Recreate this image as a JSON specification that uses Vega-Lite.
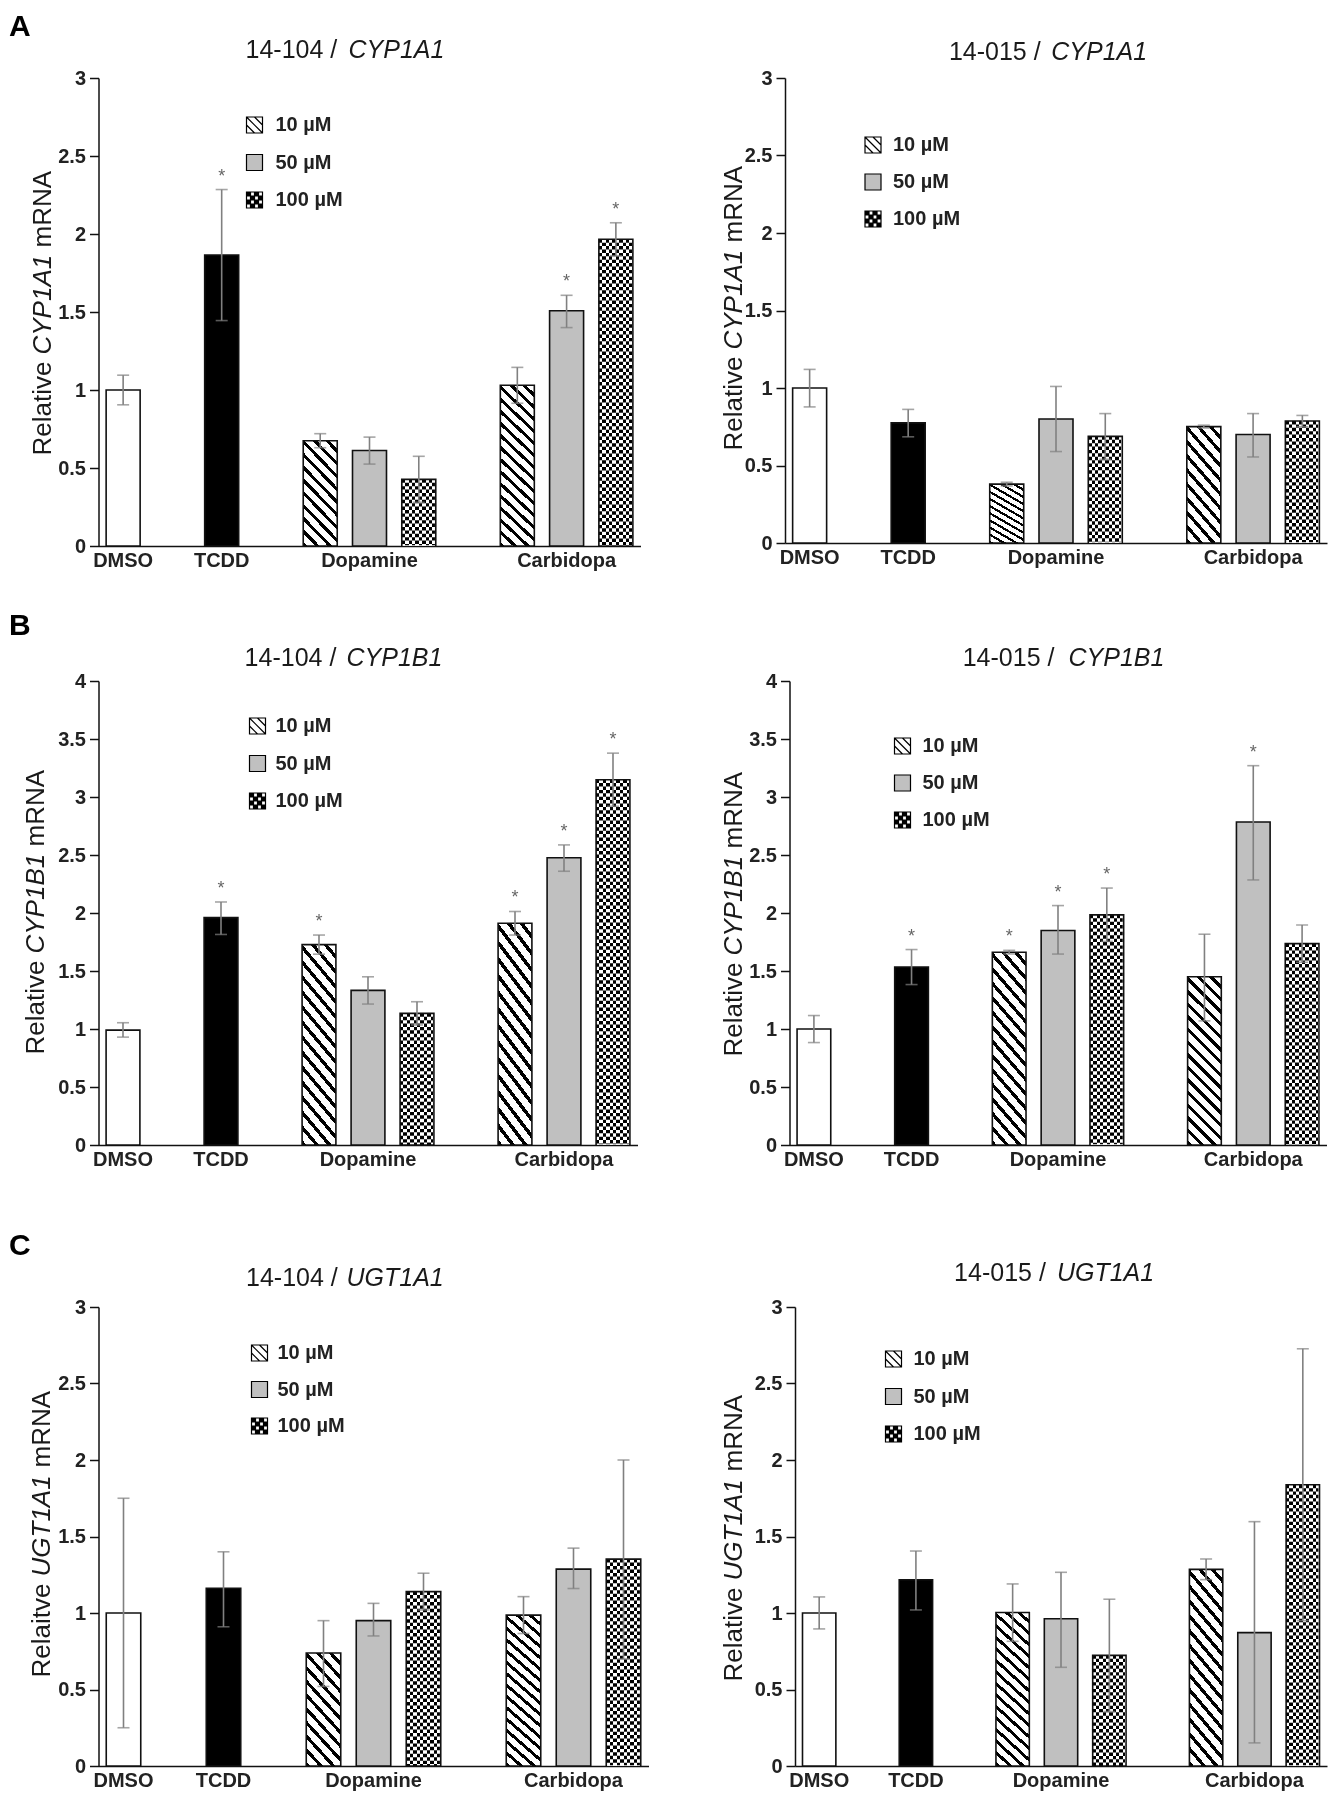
{
"$schema": "https://vega.github.io/schema/vega-lite/v6.json",
"background": "white",
"padding": {"left": 8.5, "top": 3, "right": 2, "bottom": 2},
"params": [
 {"name": "hatch", "value": {"gradient":"linear","x1":0,"y1":1,"x2":0.2308,"y2":-0.1538,"stops":[
{"offset":0,"color":"#000"},{"offset":0.0219,"color":"#000"},{"offset":0.0219,"color":"#fff"},{"offset":0.0625,"color":"#fff"},
{"offset":0.0625,"color":"#000"},{"offset":0.0844,"color":"#000"},{"offset":0.0844,"color":"#fff"},{"offset":0.125,"color":"#fff"},
{"offset":0.125,"color":"#000"},{"offset":0.1469,"color":"#000"},{"offset":0.1469,"color":"#fff"},{"offset":0.1875,"color":"#fff"},
{"offset":0.1875,"color":"#000"},{"offset":0.2094,"color":"#000"},{"offset":0.2094,"color":"#fff"},{"offset":0.25,"color":"#fff"},
{"offset":0.25,"color":"#000"},{"offset":0.2719,"color":"#000"},{"offset":0.2719,"color":"#fff"},{"offset":0.3125,"color":"#fff"},
{"offset":0.3125,"color":"#000"},{"offset":0.3344,"color":"#000"},{"offset":0.3344,"color":"#fff"},{"offset":0.375,"color":"#fff"},
{"offset":0.375,"color":"#000"},{"offset":0.3969,"color":"#000"},{"offset":0.3969,"color":"#fff"},{"offset":0.4375,"color":"#fff"},
{"offset":0.4375,"color":"#000"},{"offset":0.4594,"color":"#000"},{"offset":0.4594,"color":"#fff"},{"offset":0.5,"color":"#fff"},
{"offset":0.5,"color":"#000"},{"offset":0.5219,"color":"#000"},{"offset":0.5219,"color":"#fff"},{"offset":0.5625,"color":"#fff"},
{"offset":0.5625,"color":"#000"},{"offset":0.5844,"color":"#000"},{"offset":0.5844,"color":"#fff"},{"offset":0.625,"color":"#fff"},
{"offset":0.625,"color":"#000"},{"offset":0.6469,"color":"#000"},{"offset":0.6469,"color":"#fff"},{"offset":0.6875,"color":"#fff"},
{"offset":0.6875,"color":"#000"},{"offset":0.7094,"color":"#000"},{"offset":0.7094,"color":"#fff"},{"offset":0.75,"color":"#fff"},
{"offset":0.75,"color":"#000"},{"offset":0.7719,"color":"#000"},{"offset":0.7719,"color":"#fff"},{"offset":0.8125,"color":"#fff"},
{"offset":0.8125,"color":"#000"},{"offset":0.8344,"color":"#000"},{"offset":0.8344,"color":"#fff"},{"offset":0.875,"color":"#fff"},
{"offset":0.875,"color":"#000"},{"offset":0.8969,"color":"#000"},{"offset":0.8969,"color":"#fff"},{"offset":0.9375,"color":"#fff"},
{"offset":0.9375,"color":"#000"},{"offset":0.9594,"color":"#000"},{"offset":0.9594,"color":"#fff"},{"offset":1,"color":"#fff"}]}},
 {"name": "hatchShort", "value": {"gradient":"linear","x1":0,"y1":1,"x2":0.4,"y2":-0.2,"stops":[
{"offset":0,"color":"#000"},{"offset":0.0318,"color":"#000"},{"offset":0.0318,"color":"#fff"},{"offset":0.0909,"color":"#fff"},
{"offset":0.0909,"color":"#000"},{"offset":0.1227,"color":"#000"},{"offset":0.1227,"color":"#fff"},{"offset":0.1818,"color":"#fff"},
{"offset":0.1818,"color":"#000"},{"offset":0.2136,"color":"#000"},{"offset":0.2136,"color":"#fff"},{"offset":0.2727,"color":"#fff"},
{"offset":0.2727,"color":"#000"},{"offset":0.3045,"color":"#000"},{"offset":0.3045,"color":"#fff"},{"offset":0.3636,"color":"#fff"},
{"offset":0.3636,"color":"#000"},{"offset":0.3954,"color":"#000"},{"offset":0.3954,"color":"#fff"},{"offset":0.4545,"color":"#fff"},
{"offset":0.4545,"color":"#000"},{"offset":0.4863,"color":"#000"},{"offset":0.4863,"color":"#fff"},{"offset":0.5455,"color":"#fff"},
{"offset":0.5455,"color":"#000"},{"offset":0.5773,"color":"#000"},{"offset":0.5773,"color":"#fff"},{"offset":0.6364,"color":"#fff"},
{"offset":0.6364,"color":"#000"},{"offset":0.6682,"color":"#000"},{"offset":0.6682,"color":"#fff"},{"offset":0.7273,"color":"#fff"},
{"offset":0.7273,"color":"#000"},{"offset":0.7591,"color":"#000"},{"offset":0.7591,"color":"#fff"},{"offset":0.8182,"color":"#fff"},
{"offset":0.8182,"color":"#000"},{"offset":0.85,"color":"#000"},{"offset":0.85,"color":"#fff"},{"offset":0.9091,"color":"#fff"},
{"offset":0.9091,"color":"#000"},{"offset":0.9409,"color":"#000"},{"offset":0.9409,"color":"#fff"},{"offset":1,"color":"#fff"}]}},
 {"name": "checker", "value": {"gradient":"linear","x1":0,"y1":0,"x2":1,"y2":0,"stops":[
{"offset":0,"color":"#000"},{"offset":0.1,"color":"#000"},{"offset":0.1,"color":"#fff"},{"offset":0.2,"color":"#fff"},
{"offset":0.2,"color":"#000"},{"offset":0.3,"color":"#000"},{"offset":0.3,"color":"#fff"},{"offset":0.4,"color":"#fff"},
{"offset":0.4,"color":"#000"},{"offset":0.5,"color":"#000"},{"offset":0.5,"color":"#fff"},{"offset":0.6,"color":"#fff"},
{"offset":0.6,"color":"#000"},{"offset":0.7,"color":"#000"},{"offset":0.7,"color":"#fff"},{"offset":0.8,"color":"#fff"},
{"offset":0.8,"color":"#000"},{"offset":0.9,"color":"#000"},{"offset":0.9,"color":"#fff"},{"offset":1,"color":"#fff"}]}}
],
"datasets": {
 "AL": [
  {"slot":"DMSO","dose":"","value":1.0,"lo":0.905,"hi":1.095,"sig":""},
  {"slot":"TCDD","dose":"","value":1.865,"lo":1.445,"hi":2.285,"sig":"*"},
  {"slot":"D10","dose":"10 µM","value":0.675,"lo":0.63,"hi":0.72,"sig":""},
  {"slot":"D50","dose":"50 µM","value":0.612,"lo":0.525,"hi":0.698,"sig":""},
  {"slot":"D100","dose":"100 µM","value":0.427,"lo":0.28,"hi":0.575,"sig":""},
  {"slot":"C10","dose":"10 µM","value":1.03,"lo":0.915,"hi":1.145,"sig":""},
  {"slot":"C50","dose":"50 µM","value":1.508,"lo":1.4,"hi":1.607,"sig":"*"},
  {"slot":"C100","dose":"100 µM","value":1.966,"lo":1.86,"hi":2.072,"sig":"*"}],
 "AR": [
  {"slot":"DMSO","dose":"","value":1.0,"lo":0.878,"hi":1.12,"sig":""},
  {"slot":"TCDD","dose":"","value":0.775,"lo":0.685,"hi":0.862,"sig":""},
  {"slot":"D10","dose":"10 µM","value":0.38,"lo":0.368,"hi":0.392,"sig":""},
  {"slot":"D50","dose":"50 µM","value":0.8,"lo":0.59,"hi":1.01,"sig":""},
  {"slot":"D100","dose":"100 µM","value":0.688,"lo":0.54,"hi":0.835,"sig":""},
  {"slot":"C10","dose":"10 µM","value":0.751,"lo":0.742,"hi":0.76,"sig":""},
  {"slot":"C50","dose":"50 µM","value":0.7,"lo":0.555,"hi":0.835,"sig":""},
  {"slot":"C100","dose":"100 µM","value":0.787,"lo":0.75,"hi":0.823,"sig":""}],
 "BL": [
  {"slot":"DMSO","dose":"","value":0.99,"lo":0.93,"hi":1.054,"sig":""},
  {"slot":"TCDD","dose":"","value":1.96,"lo":1.815,"hi":2.095,"sig":"*"},
  {"slot":"D10","dose":"10 µM","value":1.727,"lo":1.645,"hi":1.81,"sig":"*"},
  {"slot":"D50","dose":"50 µM","value":1.333,"lo":1.215,"hi":1.45,"sig":""},
  {"slot":"D100","dose":"100 µM","value":1.135,"lo":1.035,"hi":1.235,"sig":""},
  {"slot":"C10","dose":"10 µM","value":1.911,"lo":1.81,"hi":2.013,"sig":"*"},
  {"slot":"C50","dose":"50 µM","value":2.476,"lo":2.36,"hi":2.587,"sig":"*"},
  {"slot":"C100","dose":"100 µM","value":3.149,"lo":2.92,"hi":3.378,"sig":"*"}],
 "BR": [
  {"slot":"DMSO","dose":"","value":1.0,"lo":0.883,"hi":1.116,"sig":""},
  {"slot":"TCDD","dose":"","value":1.534,"lo":1.383,"hi":1.685,"sig":"*"},
  {"slot":"D10","dose":"10 µM","value":1.662,"lo":1.647,"hi":1.678,"sig":"*"},
  {"slot":"D50","dose":"50 µM","value":1.849,"lo":1.646,"hi":2.064,"sig":"*"},
  {"slot":"D100","dose":"100 µM","value":1.984,"lo":1.755,"hi":2.215,"sig":"*"},
  {"slot":"C10","dose":"10 µM","value":1.45,"lo":1.07,"hi":1.817,"sig":""},
  {"slot":"C50","dose":"50 µM","value":2.785,"lo":2.285,"hi":3.27,"sig":"*"},
  {"slot":"C100","dose":"100 µM","value":1.736,"lo":1.575,"hi":1.897,"sig":""}],
 "CL": [
  {"slot":"DMSO","dose":"","value":1.0,"lo":0.25,"hi":1.75,"sig":""},
  {"slot":"TCDD","dose":"","value":1.162,"lo":0.91,"hi":1.4,"sig":""},
  {"slot":"D10","dose":"10 µM","value":0.739,"lo":0.52,"hi":0.95,"sig":""},
  {"slot":"D50","dose":"50 µM","value":0.95,"lo":0.85,"hi":1.063,"sig":""},
  {"slot":"D100","dose":"100 µM","value":1.14,"lo":1.02,"hi":1.26,"sig":""},
  {"slot":"C10","dose":"10 µM","value":0.986,"lo":0.866,"hi":1.107,"sig":""},
  {"slot":"C50","dose":"50 µM","value":1.287,"lo":1.16,"hi":1.424,"sig":""},
  {"slot":"C100","dose":"100 µM","value":1.352,"lo":0.7,"hi":2.0,"sig":""}],
 "CR": [
  {"slot":"DMSO","dose":"","value":1.0,"lo":0.896,"hi":1.105,"sig":""},
  {"slot":"TCDD","dose":"","value":1.217,"lo":1.02,"hi":1.405,"sig":""},
  {"slot":"D10","dose":"10 µM","value":1.003,"lo":0.815,"hi":1.19,"sig":""},
  {"slot":"D50","dose":"50 µM","value":0.962,"lo":0.645,"hi":1.266,"sig":""},
  {"slot":"D100","dose":"100 µM","value":0.723,"lo":0.356,"hi":1.09,"sig":""},
  {"slot":"C10","dose":"10 µM","value":1.285,"lo":1.218,"hi":1.353,"sig":""},
  {"slot":"C50","dose":"50 µM","value":0.872,"lo":0.151,"hi":1.597,"sig":""},
  {"slot":"C100","dose":"100 µM","value":1.838,"lo":0.95,"hi":2.727,"sig":""}]
},
"spacing": 31,
"resolve": {"scale": {"x":"independent","y":"independent","fill":"independent","shape":"independent"}, "axis": {"x":"independent","y":"independent"}, "legend": {"fill":"independent","shape":"independent"}},
"vconcat": [
{"hconcat": [
 {"width": 542, "height": 468, "data": {"name": "AL"},
  "encoding": {"x": {"field": "slot", "type": "nominal", "scale": {"domain": ["DMSO","g1","TCDD","g2","D10","D50","D100","g3","C10","C50","C100"], "paddingInner": 0.31, "paddingOuter": 0.155}, "axis": {"orient":"bottom","title":null,"ticks":false,"labelAngle":0,"labelFontSize":20,"labelFontWeight":"bold","labelPadding":4,"labelOverlap":false,"labelExpr":"datum.value=='D50'?'Dopamine':datum.value=='C50'?'Carbidopa':(datum.value=='DMSO'||datum.value=='TCDD')?datum.value:''"}}},
  "layer": [
   {"transform": [{"filter": "datum.dose=='' || datum.dose=='50 µM'"}], "mark": {"type":"bar","stroke":"#111111","strokeWidth":1.6},
    "encoding": {"y": {"field":"value","type":"quantitative","scale":{"domain":[0,3],"nice":false},"axis":{"orient":"left","values":[0,0.5,1,1.5,2,2.5,3],"format":"~g","tickSize":9,"labelFontSize":20,"labelFontWeight":"bold","labelPadding":4,"title":"Relative","titleFontSize":26,"titleFontWeight":"normal","titleAngle":-90,"titleAlign":"left","titleBaseline":"middle","titleX":-56.5,"titleY":377}},
     "fill": {"condition": [{"test":"datum.slot=='DMSO'","value":"white"},{"test":"datum.slot=='TCDD'","value":"black"}], "value":"#c0c0c0"}}},
   {"transform": [{"filter": "datum.dose=='10 µM'"}], "mark": {"type":"bar","fill":{"expr":"datum.value < 0.9 ? hatchShort : hatch"},"stroke":"#111111","strokeWidth":1.6},
    "encoding": {"y": {"field":"value","type":"quantitative","scale":{"domain":[0,3],"nice":false},"axis":{"orient":"left","domain":false,"ticks":false,"labels":false,"grid":false,"title":"CYP1A1","titleFontSize":26,"titleFontWeight":"normal","titleFontStyle":"italic","titleAngle":-90,"titleAlign":"left","titleBaseline":"middle","titleX":-56.5,"titleY":276}}}},
   {"transform": [{"filter": "datum.dose=='100 µM'"}], "mark": {"type":"bar","fill":{"expr":"checker"},"stroke":"#111111","strokeWidth":1.6},
    "encoding": {"y": {"field":"value","type":"quantitative","scale":{"domain":[0,3],"nice":false},"axis":{"orient":"left","domain":false,"ticks":false,"labels":false,"grid":false,"title":"mRNA","titleFontSize":26,"titleFontWeight":"normal","titleAngle":-90,"titleAlign":"left","titleBaseline":"middle","titleX":-56.5,"titleY":169}}}},
   {"transform": [{"filter": "datum.dose=='100 µM'"}], "mark": {"type":"rule","color":"white","strokeWidth":32.4,"strokeDash":[3.4,3.4],"strokeDashOffset":3.4,"blend":"difference"},
    "encoding": {"y": {"field":"value","type":"quantitative","scale":{"domain":[0,3],"nice":false},"axis":{"orient":"left","domain":false,"ticks":false,"labels":false,"grid":false,"title":"14-104 /","titleFontSize":25,"titleFontWeight":"normal","titleAngle":0,"titleAlign":"left","titleBaseline":"middle","titleX":146.5,"titleY":-29}}, "y2": {"datum": 0}}},
   {"mark": {"type":"errorbar","color":"#808080","ticks":true,"size":12,"thickness":1.6},
    "encoding": {"y": {"field":"lo","type":"quantitative","scale":{"domain":[0,3],"nice":false},"axis":null}, "y2": {"field":"hi"}}},
   {"mark": {"type":"text","fontSize":18,"color":"#666666","baseline":"alphabetic","dy":-8},
    "encoding": {"y": {"field":"hi","type":"quantitative","scale":{"domain":[0,3],"nice":false},"axis":{"orient":"left","domain":false,"ticks":false,"labels":false,"grid":false,"title":"CYP1A1","titleFontSize":25,"titleFontWeight":"normal","titleFontStyle":"italic","titleAngle":0,"titleAlign":"left","titleBaseline":"middle","titleX":249.5,"titleY":-29}}, "text": {"field":"sig"}}},
   {"transform": [{"filter": "datum.dose!=''"}], "mark": {"type":"point","filled":true,"opacity":0},
    "encoding": {"y": {"field":"value","type":"quantitative","scale":{"domain":[0,3],"nice":false},"axis":{"orient":"left","domain":false,"ticks":false,"labels":false,"grid":false,"title":"A","titleFontSize":30,"titleFontWeight":"bold","titleColor":"black","titleAngle":0,"titleAlign":"left","titleBaseline":"middle","titleX":-90,"titleY":-52}},
     "fill": {"field":"dose","type":"nominal","scale":{"domain":["10 µM","50 µM","100 µM"],"range":["white","#c0c0c0","black"]},"legend":{"orient":"none","legendX":146,"legendY":37,"title":null,"symbolSize":256,"rowPadding":15.5,"labelOffset":11,"labelFontSize":20,"padding":0,"symbolStrokeColor":"black","symbolStrokeWidth":1.2,"symbolOpacity":1,"encode":{"symbols":{"update":{"stroke":{"value":"black"},"strokeWidth":{"value":1.2},"opacity":{"value":1}}}}}},
     "shape": {"field":"dose","type":"nominal","scale":{"domain":["10 µM","50 µM","100 µM"],"range":["M-1,-1H1V1H-1Z M-1,-1L1,1 M0,-1L1,0 M-1,0L0,1","M-1,-1H1V1H-1Z","M-1,-1H1V1H-1Z M-0.5,-1V-0.5H0V-1Z M0.5,-1V-0.5H1V-1Z M-1,-0.5V0H-0.5V-0.5Z M0,-0.5V0H0.5V-0.5Z M-0.5,0V0.5H0V0Z M0.5,0V0.5H1V0Z M-1,0.5V1H-0.5V0.5Z M0,0.5V1H0.5V0.5Z"]},"legend":{"orient":"none","legendX":146,"legendY":37,"title":null,"symbolSize":256,"rowPadding":15.5,"labelOffset":11,"labelFontSize":20,"padding":0,"symbolStrokeColor":"black","symbolStrokeWidth":1.2,"symbolOpacity":1,"encode":{"symbols":{"update":{"stroke":{"value":"black"},"strokeWidth":{"value":1.2},"opacity":{"value":1}}}}}}}}
  ],
  "resolve": {"axis": {"y": "independent"}}},
 {"width": 542, "height": 465, "data": {"name": "AR"},
  "encoding": {"x": {"field": "slot", "type": "nominal", "scale": {"domain": ["DMSO","g1","TCDD","g2","D10","D50","D100","g3","C10","C50","C100"], "paddingInner": 0.31, "paddingOuter": 0.155}, "axis": {"orient":"bottom","title":null,"ticks":false,"labelAngle":0,"labelFontSize":20,"labelFontWeight":"bold","labelPadding":4,"labelOverlap":false,"labelExpr":"datum.value=='D50'?'Dopamine':datum.value=='C50'?'Carbidopa':(datum.value=='DMSO'||datum.value=='TCDD')?datum.value:''"}}},
  "layer": [
   {"transform": [{"filter": "datum.dose=='' || datum.dose=='50 µM'"}], "mark": {"type":"bar","stroke":"#111111","strokeWidth":1.6},
    "encoding": {"y": {"field":"value","type":"quantitative","scale":{"domain":[0,3],"nice":false},"axis":{"orient":"left","values":[0,0.5,1,1.5,2,2.5,3],"format":"~g","tickSize":9,"labelFontSize":20,"labelFontWeight":"bold","labelPadding":4,"title":"Relative","titleFontSize":26,"titleFontWeight":"normal","titleAngle":-90,"titleAlign":"left","titleBaseline":"middle","titleX":-51.6,"titleY":372}},
     "fill": {"condition": [{"test":"datum.slot=='DMSO'","value":"white"},{"test":"datum.slot=='TCDD'","value":"black"}], "value":"#c0c0c0"}}},
   {"transform": [{"filter": "datum.dose=='10 µM'"}], "mark": {"type":"bar","fill":{"expr":"datum.value < 0.9 ? hatchShort : hatch"},"stroke":"#111111","strokeWidth":1.6},
    "encoding": {"y": {"field":"value","type":"quantitative","scale":{"domain":[0,3],"nice":false},"axis":{"orient":"left","domain":false,"ticks":false,"labels":false,"grid":false,"title":"CYP1A1","titleFontSize":26,"titleFontWeight":"normal","titleFontStyle":"italic","titleAngle":-90,"titleAlign":"left","titleBaseline":"middle","titleX":-51.6,"titleY":271}}}},
   {"transform": [{"filter": "datum.dose=='100 µM'"}], "mark": {"type":"bar","fill":{"expr":"checker"},"stroke":"#111111","strokeWidth":1.6},
    "encoding": {"y": {"field":"value","type":"quantitative","scale":{"domain":[0,3],"nice":false},"axis":{"orient":"left","domain":false,"ticks":false,"labels":false,"grid":false,"title":"mRNA","titleFontSize":26,"titleFontWeight":"normal","titleAngle":-90,"titleAlign":"left","titleBaseline":"middle","titleX":-51.6,"titleY":164}}}},
   {"transform": [{"filter": "datum.dose=='100 µM'"}], "mark": {"type":"rule","color":"white","strokeWidth":32.4,"strokeDash":[3.4,3.4],"strokeDashOffset":3.4,"blend":"difference"},
    "encoding": {"y": {"field":"value","type":"quantitative","scale":{"domain":[0,3],"nice":false},"axis":{"orient":"left","domain":false,"ticks":false,"labels":false,"grid":false,"title":"14-015 /","titleFontSize":25,"titleFontWeight":"normal","titleAngle":0,"titleAlign":"left","titleBaseline":"middle","titleX":163.4,"titleY":-27}}, "y2": {"datum": 0}}},
   {"mark": {"type":"errorbar","color":"#808080","ticks":true,"size":12,"thickness":1.6},
    "encoding": {"y": {"field":"lo","type":"quantitative","scale":{"domain":[0,3],"nice":false},"axis":null}, "y2": {"field":"hi"}}},
   {"mark": {"type":"text","fontSize":18,"color":"#666666","baseline":"alphabetic","dy":-8},
    "encoding": {"y": {"field":"hi","type":"quantitative","scale":{"domain":[0,3],"nice":false},"axis":{"orient":"left","domain":false,"ticks":false,"labels":false,"grid":false,"title":"CYP1A1","titleFontSize":25,"titleFontWeight":"normal","titleFontStyle":"italic","titleAngle":0,"titleAlign":"left","titleBaseline":"middle","titleX":265.8,"titleY":-27}}, "text": {"field":"sig"}}},
   {"transform": [{"filter": "datum.dose!=''"}], "mark": {"type":"point","filled":true,"opacity":0},
    "encoding": {"y": {"field":"value","type":"quantitative","scale":{"domain":[0,3],"nice":false},"axis":{"orient":"left","domain":false,"ticks":false,"labels":false,"grid":false,"title":"\u00a0","titleFontSize":8,"titleAngle":0,"titleAlign":"left","titleBaseline":"top","titleX":0,"titleY":-75}},
     "fill": {"field":"dose","type":"nominal","scale":{"domain":["10 µM","50 µM","100 µM"],"range":["white","#c0c0c0","black"]},"legend":{"orient":"none","legendX":78,"legendY":57,"title":null,"symbolSize":256,"rowPadding":15,"labelOffset":10,"labelFontSize":20,"padding":0,"symbolStrokeColor":"black","symbolStrokeWidth":1.2,"symbolOpacity":1,"encode":{"symbols":{"update":{"stroke":{"value":"black"},"strokeWidth":{"value":1.2},"opacity":{"value":1}}}}}},
     "shape": {"field":"dose","type":"nominal","scale":{"domain":["10 µM","50 µM","100 µM"],"range":["M-1,-1H1V1H-1Z M-1,-1L1,1 M0,-1L1,0 M-1,0L0,1","M-1,-1H1V1H-1Z","M-1,-1H1V1H-1Z M-0.5,-1V-0.5H0V-1Z M0.5,-1V-0.5H1V-1Z M-1,-0.5V0H-0.5V-0.5Z M0,-0.5V0H0.5V-0.5Z M-0.5,0V0.5H0V0Z M0.5,0V0.5H1V0Z M-1,0.5V1H-0.5V0.5Z M0,0.5V1H0.5V0.5Z"]},"legend":{"orient":"none","legendX":78,"legendY":57,"title":null,"symbolSize":256,"rowPadding":15,"labelOffset":10,"labelFontSize":20,"padding":0,"symbolStrokeColor":"black","symbolStrokeWidth":1.2,"symbolOpacity":1,"encode":{"symbols":{"update":{"stroke":{"value":"black"},"strokeWidth":{"value":1.2},"opacity":{"value":1}}}}}}}}
  ],
  "resolve": {"axis": {"y": "independent"}}}
 ],
 "spacing": 144.5, "bounds": "flush",
 "resolve": {"scale": {"x":"independent","y":"independent","fill":"independent","shape":"independent"}, "axis": {"x":"independent","y":"independent"}, "legend": {"fill":"independent","shape":"independent"}}},
{"hconcat": [
 {"width": 539, "height": 464, "data": {"name": "BL"},
  "encoding": {"x": {"field": "slot", "type": "nominal", "scale": {"domain": ["DMSO","g1","TCDD","g2","D10","D50","D100","g3","C10","C50","C100"], "paddingInner": 0.31, "paddingOuter": 0.155}, "axis": {"orient":"bottom","title":null,"ticks":false,"labelAngle":0,"labelFontSize":20,"labelFontWeight":"bold","labelPadding":4,"labelOverlap":false,"labelExpr":"datum.value=='D50'?'Dopamine':datum.value=='C50'?'Carbidopa':(datum.value=='DMSO'||datum.value=='TCDD')?datum.value:''"}}},
  "layer": [
   {"transform": [{"filter": "datum.dose=='' || datum.dose=='50 µM'"}], "mark": {"type":"bar","stroke":"#111111","strokeWidth":1.6},
    "encoding": {"y": {"field":"value","type":"quantitative","scale":{"domain":[0,4],"nice":false},"axis":{"orient":"left","values":[0,0.5,1,1.5,2,2.5,3,3.5,4],"format":"~g","tickSize":9,"labelFontSize":20,"labelFontWeight":"bold","labelPadding":4,"title":"Relative","titleFontSize":26,"titleFontWeight":"normal","titleAngle":-90,"titleAlign":"left","titleBaseline":"middle","titleX":-62.7,"titleY":373}},
     "fill": {"condition": [{"test":"datum.slot=='DMSO'","value":"white"},{"test":"datum.slot=='TCDD'","value":"black"}], "value":"#c0c0c0"}}},
   {"transform": [{"filter": "datum.dose=='10 µM'"}], "mark": {"type":"bar","fill":{"expr":"hatch"},"stroke":"#111111","strokeWidth":1.6},
    "encoding": {"y": {"field":"value","type":"quantitative","scale":{"domain":[0,4],"nice":false},"axis":{"orient":"left","domain":false,"ticks":false,"labels":false,"grid":false,"title":"CYP1B1","titleFontSize":26,"titleFontWeight":"normal","titleFontStyle":"italic","titleAngle":-90,"titleAlign":"left","titleBaseline":"middle","titleX":-62.7,"titleY":272}}}},
   {"transform": [{"filter": "datum.dose=='100 µM'"}], "mark": {"type":"bar","fill":{"expr":"checker"},"stroke":"#111111","strokeWidth":1.6},
    "encoding": {"y": {"field":"value","type":"quantitative","scale":{"domain":[0,4],"nice":false},"axis":{"orient":"left","domain":false,"ticks":false,"labels":false,"grid":false,"title":"mRNA","titleFontSize":26,"titleFontWeight":"normal","titleAngle":-90,"titleAlign":"left","titleBaseline":"middle","titleX":-62.7,"titleY":165}}}},
   {"transform": [{"filter": "datum.dose=='100 µM'"}], "mark": {"type":"rule","color":"white","strokeWidth":32.2,"strokeDash":[3.4,3.4],"strokeDashOffset":3.4,"blend":"difference"},
    "encoding": {"y": {"field":"value","type":"quantitative","scale":{"domain":[0,4],"nice":false},"axis":{"orient":"left","domain":false,"ticks":false,"labels":false,"grid":false,"title":"14-104 /","titleFontSize":25,"titleFontWeight":"normal","titleAngle":0,"titleAlign":"left","titleBaseline":"middle","titleX":145.6,"titleY":-24}}, "y2": {"datum": 0}}},
   {"mark": {"type":"errorbar","color":"#808080","ticks":true,"size":12,"thickness":1.6},
    "encoding": {"y": {"field":"lo","type":"quantitative","scale":{"domain":[0,4],"nice":false},"axis":null}, "y2": {"field":"hi"}}},
   {"mark": {"type":"text","fontSize":18,"color":"#666666","baseline":"alphabetic","dy":-8},
    "encoding": {"y": {"field":"hi","type":"quantitative","scale":{"domain":[0,4],"nice":false},"axis":{"orient":"left","domain":false,"ticks":false,"labels":false,"grid":false,"title":"CYP1B1","titleFontSize":25,"titleFontWeight":"normal","titleFontStyle":"italic","titleAngle":0,"titleAlign":"left","titleBaseline":"middle","titleX":247.5,"titleY":-24}}, "text": {"field":"sig"}}},
   {"transform": [{"filter": "datum.dose!=''"}], "mark": {"type":"point","filled":true,"opacity":0},
    "encoding": {"y": {"field":"value","type":"quantitative","scale":{"domain":[0,4],"nice":false},"axis":{"orient":"left","domain":false,"ticks":false,"labels":false,"grid":false,"title":"B","titleFontSize":30,"titleFontWeight":"bold","titleColor":"black","titleAngle":0,"titleAlign":"left","titleBaseline":"middle","titleX":-90,"titleY":-56}},
     "fill": {"field":"dose","type":"nominal","scale":{"domain":["10 µM","50 µM","100 µM"],"range":["white","#c0c0c0","black"]},"legend":{"orient":"none","legendX":149,"legendY":35,"title":null,"symbolSize":256,"rowPadding":15.5,"labelOffset":8,"labelFontSize":20,"padding":0,"symbolStrokeColor":"black","symbolStrokeWidth":1.2,"symbolOpacity":1,"encode":{"symbols":{"update":{"stroke":{"value":"black"},"strokeWidth":{"value":1.2},"opacity":{"value":1}}}}}},
     "shape": {"field":"dose","type":"nominal","scale":{"domain":["10 µM","50 µM","100 µM"],"range":["M-1,-1H1V1H-1Z M-1,-1L1,1 M0,-1L1,0 M-1,0L0,1","M-1,-1H1V1H-1Z","M-1,-1H1V1H-1Z M-0.5,-1V-0.5H0V-1Z M0.5,-1V-0.5H1V-1Z M-1,-0.5V0H-0.5V-0.5Z M0,-0.5V0H0.5V-0.5Z M-0.5,0V0.5H0V0Z M0.5,0V0.5H1V0Z M-1,0.5V1H-0.5V0.5Z M0,0.5V1H0.5V0.5Z"]},"legend":{"orient":"none","legendX":149,"legendY":35,"title":null,"symbolSize":256,"rowPadding":15.5,"labelOffset":8,"labelFontSize":20,"padding":0,"symbolStrokeColor":"black","symbolStrokeWidth":1.2,"symbolOpacity":1,"encode":{"symbols":{"update":{"stroke":{"value":"black"},"strokeWidth":{"value":1.2},"opacity":{"value":1}}}}}}}}
  ],
  "resolve": {"axis": {"y": "independent"}}},
 {"width": 537, "height": 464, "data": {"name": "BR"},
  "encoding": {"x": {"field": "slot", "type": "nominal", "scale": {"domain": ["DMSO","g1","TCDD","g2","D10","D50","D100","g3","C10","C50","C100"], "paddingInner": 0.31, "paddingOuter": 0.155}, "axis": {"orient":"bottom","title":null,"ticks":false,"labelAngle":0,"labelFontSize":20,"labelFontWeight":"bold","labelPadding":4,"labelOverlap":false,"labelExpr":"datum.value=='D50'?'Dopamine':datum.value=='C50'?'Carbidopa':(datum.value=='DMSO'||datum.value=='TCDD')?datum.value:''"}}},
  "layer": [
   {"transform": [{"filter": "datum.dose=='' || datum.dose=='50 µM'"}], "mark": {"type":"bar","stroke":"#111111","strokeWidth":1.6},
    "encoding": {"y": {"field":"value","type":"quantitative","scale":{"domain":[0,4],"nice":false},"axis":{"orient":"left","values":[0,0.5,1,1.5,2,2.5,3,3.5,4],"format":"~g","tickSize":9,"labelFontSize":20,"labelFontWeight":"bold","labelPadding":4,"title":"Relative","titleFontSize":26,"titleFontWeight":"normal","titleAngle":-90,"titleAlign":"left","titleBaseline":"middle","titleX":-56,"titleY":375}},
     "fill": {"condition": [{"test":"datum.slot=='DMSO'","value":"white"},{"test":"datum.slot=='TCDD'","value":"black"}], "value":"#c0c0c0"}}},
   {"transform": [{"filter": "datum.dose=='10 µM'"}], "mark": {"type":"bar","fill":{"expr":"hatch"},"stroke":"#111111","strokeWidth":1.6},
    "encoding": {"y": {"field":"value","type":"quantitative","scale":{"domain":[0,4],"nice":false},"axis":{"orient":"left","domain":false,"ticks":false,"labels":false,"grid":false,"title":"CYP1B1","titleFontSize":26,"titleFontWeight":"normal","titleFontStyle":"italic","titleAngle":-90,"titleAlign":"left","titleBaseline":"middle","titleX":-56,"titleY":274}}}},
   {"transform": [{"filter": "datum.dose=='100 µM'"}], "mark": {"type":"bar","fill":{"expr":"checker"},"stroke":"#111111","strokeWidth":1.6},
    "encoding": {"y": {"field":"value","type":"quantitative","scale":{"domain":[0,4],"nice":false},"axis":{"orient":"left","domain":false,"ticks":false,"labels":false,"grid":false,"title":"mRNA","titleFontSize":26,"titleFontWeight":"normal","titleAngle":-90,"titleAlign":"left","titleBaseline":"middle","titleX":-56,"titleY":167}}}},
   {"transform": [{"filter": "datum.dose=='100 µM'"}], "mark": {"type":"rule","color":"white","strokeWidth":32.1,"strokeDash":[3.4,3.4],"strokeDashOffset":3.4,"blend":"difference"},
    "encoding": {"y": {"field":"value","type":"quantitative","scale":{"domain":[0,4],"nice":false},"axis":{"orient":"left","domain":false,"ticks":false,"labels":false,"grid":false,"title":"14-015 /","titleFontSize":25,"titleFontWeight":"normal","titleAngle":0,"titleAlign":"left","titleBaseline":"middle","titleX":172.7,"titleY":-24}}, "y2": {"datum": 0}}},
   {"mark": {"type":"errorbar","color":"#808080","ticks":true,"size":12,"thickness":1.6},
    "encoding": {"y": {"field":"lo","type":"quantitative","scale":{"domain":[0,4],"nice":false},"axis":null}, "y2": {"field":"hi"}}},
   {"mark": {"type":"text","fontSize":18,"color":"#666666","baseline":"alphabetic","dy":-8},
    "encoding": {"y": {"field":"hi","type":"quantitative","scale":{"domain":[0,4],"nice":false},"axis":{"orient":"left","domain":false,"ticks":false,"labels":false,"grid":false,"title":"CYP1B1","titleFontSize":25,"titleFontWeight":"normal","titleFontStyle":"italic","titleAngle":0,"titleAlign":"left","titleBaseline":"middle","titleX":278.5,"titleY":-24}}, "text": {"field":"sig"}}},
   {"transform": [{"filter": "datum.dose!=''"}], "mark": {"type":"point","filled":true,"opacity":0},
    "encoding": {"y": {"field":"value","type":"quantitative","scale":{"domain":[0,4],"nice":false},"axis":{"orient":"left","domain":false,"ticks":false,"labels":false,"grid":false,"title":"\u00a0","titleFontSize":8,"titleAngle":0,"titleAlign":"left","titleBaseline":"top","titleX":0,"titleY":-80}},
     "fill": {"field":"dose","type":"nominal","scale":{"domain":["10 µM","50 µM","100 µM"],"range":["white","#c0c0c0","black"]},"legend":{"orient":"none","legendX":103,"legendY":55,"title":null,"symbolSize":256,"rowPadding":15,"labelOffset":10,"labelFontSize":20,"padding":0,"symbolStrokeColor":"black","symbolStrokeWidth":1.2,"symbolOpacity":1,"encode":{"symbols":{"update":{"stroke":{"value":"black"},"strokeWidth":{"value":1.2},"opacity":{"value":1}}}}}},
     "shape": {"field":"dose","type":"nominal","scale":{"domain":["10 µM","50 µM","100 µM"],"range":["M-1,-1H1V1H-1Z M-1,-1L1,1 M0,-1L1,0 M-1,0L0,1","M-1,-1H1V1H-1Z","M-1,-1H1V1H-1Z M-0.5,-1V-0.5H0V-1Z M0.5,-1V-0.5H1V-1Z M-1,-0.5V0H-0.5V-0.5Z M0,-0.5V0H0.5V-0.5Z M-0.5,0V0.5H0V0Z M0.5,0V0.5H1V0Z M-1,0.5V1H-0.5V0.5Z M0,0.5V1H0.5V0.5Z"]},"legend":{"orient":"none","legendX":103,"legendY":55,"title":null,"symbolSize":256,"rowPadding":15,"labelOffset":10,"labelFontSize":20,"padding":0,"symbolStrokeColor":"black","symbolStrokeWidth":1.2,"symbolOpacity":1,"encode":{"symbols":{"update":{"stroke":{"value":"black"},"strokeWidth":{"value":1.2},"opacity":{"value":1}}}}}}}}
  ],
  "resolve": {"axis": {"y": "independent"}}}
 ],
 "spacing": 152, "bounds": "flush",
 "resolve": {"scale": {"x":"independent","y":"independent","fill":"independent","shape":"independent"}, "axis": {"x":"independent","y":"independent"}, "legend": {"fill":"independent","shape":"independent"}}},
{"hconcat": [
 {"width": 550, "height": 459, "data": {"name": "CL"},
  "encoding": {"x": {"field": "slot", "type": "nominal", "scale": {"domain": ["DMSO","g1","TCDD","g2","D10","D50","D100","g3","C10","C50","C100"], "paddingInner": 0.31, "paddingOuter": 0.155}, "axis": {"orient":"bottom","title":null,"ticks":false,"labelAngle":0,"labelFontSize":20,"labelFontWeight":"bold","labelPadding":4,"labelOverlap":false,"labelExpr":"datum.value=='D50'?'Dopamine':datum.value=='C50'?'Carbidopa':(datum.value=='DMSO'||datum.value=='TCDD')?datum.value:''"}}},
  "layer": [
   {"transform": [{"filter": "datum.dose=='' || datum.dose=='50 µM'"}], "mark": {"type":"bar","stroke":"#111111","strokeWidth":1.6},
    "encoding": {"y": {"field":"value","type":"quantitative","scale":{"domain":[0,3],"nice":false},"axis":{"orient":"left","values":[0,0.5,1,1.5,2,2.5,3],"format":"~g","tickSize":9,"labelFontSize":20,"labelFontWeight":"bold","labelPadding":4,"title":"Relaitve","titleFontSize":26,"titleFontWeight":"normal","titleAngle":-90,"titleAlign":"left","titleBaseline":"middle","titleX":-57,"titleY":370}},
     "fill": {"condition": [{"test":"datum.slot=='DMSO'","value":"white"},{"test":"datum.slot=='TCDD'","value":"black"}], "value":"#c0c0c0"}}},
   {"transform": [{"filter": "datum.dose=='10 µM'"}], "mark": {"type":"bar","fill":{"expr":"datum.value < 0.9 ? hatchShort : hatch"},"stroke":"#111111","strokeWidth":1.6},
    "encoding": {"y": {"field":"value","type":"quantitative","scale":{"domain":[0,3],"nice":false},"axis":{"orient":"left","domain":false,"ticks":false,"labels":false,"grid":false,"title":"UGT1A1","titleFontSize":26,"titleFontWeight":"normal","titleFontStyle":"italic","titleAngle":-90,"titleAlign":"left","titleBaseline":"middle","titleX":-57,"titleY":269}}}},
   {"transform": [{"filter": "datum.dose=='100 µM'"}], "mark": {"type":"bar","fill":{"expr":"checker"},"stroke":"#111111","strokeWidth":1.6},
    "encoding": {"y": {"field":"value","type":"quantitative","scale":{"domain":[0,3],"nice":false},"axis":{"orient":"left","domain":false,"ticks":false,"labels":false,"grid":false,"title":"mRNA","titleFontSize":26,"titleFontWeight":"normal","titleAngle":-90,"titleAlign":"left","titleBaseline":"middle","titleX":-57,"titleY":160}}}},
   {"transform": [{"filter": "datum.dose=='100 µM'"}], "mark": {"type":"rule","color":"white","strokeWidth":32.9,"strokeDash":[3.45,3.45],"strokeDashOffset":3.45,"blend":"difference"},
    "encoding": {"y": {"field":"value","type":"quantitative","scale":{"domain":[0,3],"nice":false},"axis":{"orient":"left","domain":false,"ticks":false,"labels":false,"grid":false,"title":"14-104 /","titleFontSize":25,"titleFontWeight":"normal","titleAngle":0,"titleAlign":"left","titleBaseline":"middle","titleX":147,"titleY":-30}}, "y2": {"datum": 0}}},
   {"mark": {"type":"errorbar","color":"#808080","ticks":true,"size":12,"thickness":1.6},
    "encoding": {"y": {"field":"lo","type":"quantitative","scale":{"domain":[0,3],"nice":false},"axis":null}, "y2": {"field":"hi"}}},
   {"mark": {"type":"text","fontSize":18,"color":"#666666","baseline":"alphabetic","dy":-8},
    "encoding": {"y": {"field":"hi","type":"quantitative","scale":{"domain":[0,3],"nice":false},"axis":{"orient":"left","domain":false,"ticks":false,"labels":false,"grid":false,"title":"UGT1A1","titleFontSize":25,"titleFontWeight":"normal","titleFontStyle":"italic","titleAngle":0,"titleAlign":"left","titleBaseline":"middle","titleX":247.5,"titleY":-30}}, "text": {"field":"sig"}}},
   {"transform": [{"filter": "datum.dose!=''"}], "mark": {"type":"point","filled":true,"opacity":0},
    "encoding": {"y": {"field":"value","type":"quantitative","scale":{"domain":[0,3],"nice":false},"axis":{"orient":"left","domain":false,"ticks":false,"labels":false,"grid":false,"title":"C","titleFontSize":30,"titleFontWeight":"bold","titleColor":"black","titleAngle":0,"titleAlign":"left","titleBaseline":"middle","titleX":-90,"titleY":-62}},
     "fill": {"field":"dose","type":"nominal","scale":{"domain":["10 µM","50 µM","100 µM"],"range":["white","#c0c0c0","black"]},"legend":{"orient":"none","legendX":151,"legendY":36,"title":null,"symbolSize":256,"rowPadding":14.5,"labelOffset":8,"labelFontSize":20,"padding":0,"symbolStrokeColor":"black","symbolStrokeWidth":1.2,"symbolOpacity":1,"encode":{"symbols":{"update":{"stroke":{"value":"black"},"strokeWidth":{"value":1.2},"opacity":{"value":1}}}}}},
     "shape": {"field":"dose","type":"nominal","scale":{"domain":["10 µM","50 µM","100 µM"],"range":["M-1,-1H1V1H-1Z M-1,-1L1,1 M0,-1L1,0 M-1,0L0,1","M-1,-1H1V1H-1Z","M-1,-1H1V1H-1Z M-0.5,-1V-0.5H0V-1Z M0.5,-1V-0.5H1V-1Z M-1,-0.5V0H-0.5V-0.5Z M0,-0.5V0H0.5V-0.5Z M-0.5,0V0.5H0V0Z M0.5,0V0.5H1V0Z M-1,0.5V1H-0.5V0.5Z M0,0.5V1H0.5V0.5Z"]},"legend":{"orient":"none","legendX":151,"legendY":36,"title":null,"symbolSize":256,"rowPadding":14.5,"labelOffset":8,"labelFontSize":20,"padding":0,"symbolStrokeColor":"black","symbolStrokeWidth":1.2,"symbolOpacity":1,"encode":{"symbols":{"update":{"stroke":{"value":"black"},"strokeWidth":{"value":1.2},"opacity":{"value":1}}}}}}}}
  ],
  "resolve": {"axis": {"y": "independent"}}},
 {"width": 532, "height": 459, "data": {"name": "CR"},
  "encoding": {"x": {"field": "slot", "type": "nominal", "scale": {"domain": ["DMSO","g1","TCDD","g2","D10","D50","D100","g3","C10","C50","C100"], "paddingInner": 0.31, "paddingOuter": 0.155}, "axis": {"orient":"bottom","title":null,"ticks":false,"labelAngle":0,"labelFontSize":20,"labelFontWeight":"bold","labelPadding":4,"labelOverlap":false,"labelExpr":"datum.value=='D50'?'Dopamine':datum.value=='C50'?'Carbidopa':(datum.value=='DMSO'||datum.value=='TCDD')?datum.value:''"}}},
  "layer": [
   {"transform": [{"filter": "datum.dose=='' || datum.dose=='50 µM'"}], "mark": {"type":"bar","stroke":"#111111","strokeWidth":1.6},
    "encoding": {"y": {"field":"value","type":"quantitative","scale":{"domain":[0,3],"nice":false},"axis":{"orient":"left","values":[0,0.5,1,1.5,2,2.5,3],"format":"~g","tickSize":9,"labelFontSize":20,"labelFontWeight":"bold","labelPadding":4,"title":"Relative","titleFontSize":26,"titleFontWeight":"normal","titleAngle":-90,"titleAlign":"left","titleBaseline":"middle","titleX":-61.6,"titleY":374}},
     "fill": {"condition": [{"test":"datum.slot=='DMSO'","value":"white"},{"test":"datum.slot=='TCDD'","value":"black"}], "value":"#c0c0c0"}}},
   {"transform": [{"filter": "datum.dose=='10 µM'"}], "mark": {"type":"bar","fill":{"expr":"datum.value < 0.9 ? hatchShort : hatch"},"stroke":"#111111","strokeWidth":1.6},
    "encoding": {"y": {"field":"value","type":"quantitative","scale":{"domain":[0,3],"nice":false},"axis":{"orient":"left","domain":false,"ticks":false,"labels":false,"grid":false,"title":"UGT1A1","titleFontSize":26,"titleFontWeight":"normal","titleFontStyle":"italic","titleAngle":-90,"titleAlign":"left","titleBaseline":"middle","titleX":-61.6,"titleY":273}}}},
   {"transform": [{"filter": "datum.dose=='100 µM'"}], "mark": {"type":"bar","fill":{"expr":"checker"},"stroke":"#111111","strokeWidth":1.6},
    "encoding": {"y": {"field":"value","type":"quantitative","scale":{"domain":[0,3],"nice":false},"axis":{"orient":"left","domain":false,"ticks":false,"labels":false,"grid":false,"title":"mRNA","titleFontSize":26,"titleFontWeight":"normal","titleAngle":-90,"titleAlign":"left","titleBaseline":"middle","titleX":-61.6,"titleY":164}}}},
   {"transform": [{"filter": "datum.dose=='100 µM'"}], "mark": {"type":"rule","color":"white","strokeWidth":31.8,"strokeDash":[3.35,3.35],"strokeDashOffset":3.35,"blend":"difference"},
    "encoding": {"y": {"field":"value","type":"quantitative","scale":{"domain":[0,3],"nice":false},"axis":{"orient":"left","domain":false,"ticks":false,"labels":false,"grid":false,"title":"14-015 /","titleFontSize":25,"titleFontWeight":"normal","titleAngle":0,"titleAlign":"left","titleBaseline":"middle","titleX":158.6,"titleY":-35}}, "y2": {"datum": 0}}},
   {"mark": {"type":"errorbar","color":"#808080","ticks":true,"size":12,"thickness":1.6},
    "encoding": {"y": {"field":"lo","type":"quantitative","scale":{"domain":[0,3],"nice":false},"axis":null}, "y2": {"field":"hi"}}},
   {"mark": {"type":"text","fontSize":18,"color":"#666666","baseline":"alphabetic","dy":-8},
    "encoding": {"y": {"field":"hi","type":"quantitative","scale":{"domain":[0,3],"nice":false},"axis":{"orient":"left","domain":false,"ticks":false,"labels":false,"grid":false,"title":"UGT1A1","titleFontSize":25,"titleFontWeight":"normal","titleFontStyle":"italic","titleAngle":0,"titleAlign":"left","titleBaseline":"middle","titleX":261.4,"titleY":-35}}, "text": {"field":"sig"}}},
   {"transform": [{"filter": "datum.dose!=''"}], "mark": {"type":"point","filled":true,"opacity":0},
    "encoding": {"y": {"field":"value","type":"quantitative","scale":{"domain":[0,3],"nice":false},"axis":{"orient":"left","domain":false,"ticks":false,"labels":false,"grid":false,"title":"\u00a0","titleFontSize":8,"titleAngle":0,"titleAlign":"left","titleBaseline":"top","titleX":0,"titleY":-107}},
     "fill": {"field":"dose","type":"nominal","scale":{"domain":["10 µM","50 µM","100 µM"],"range":["white","#c0c0c0","black"]},"legend":{"orient":"none","legendX":88.5,"legendY":42,"title":null,"symbolSize":256,"rowPadding":15.5,"labelOffset":10,"labelFontSize":20,"padding":0,"symbolStrokeColor":"black","symbolStrokeWidth":1.2,"symbolOpacity":1,"encode":{"symbols":{"update":{"stroke":{"value":"black"},"strokeWidth":{"value":1.2},"opacity":{"value":1}}}}}},
     "shape": {"field":"dose","type":"nominal","scale":{"domain":["10 µM","50 µM","100 µM"],"range":["M-1,-1H1V1H-1Z M-1,-1L1,1 M0,-1L1,0 M-1,0L0,1","M-1,-1H1V1H-1Z","M-1,-1H1V1H-1Z M-0.5,-1V-0.5H0V-1Z M0.5,-1V-0.5H1V-1Z M-1,-0.5V0H-0.5V-0.5Z M0,-0.5V0H0.5V-0.5Z M-0.5,0V0.5H0V0Z M0.5,0V0.5H1V0Z M-1,0.5V1H-0.5V0.5Z M0,0.5V1H0.5V0.5Z"]},"legend":{"orient":"none","legendX":88.5,"legendY":42,"title":null,"symbolSize":256,"rowPadding":15.5,"labelOffset":10,"labelFontSize":20,"padding":0,"symbolStrokeColor":"black","symbolStrokeWidth":1.2,"symbolOpacity":1,"encode":{"symbols":{"update":{"stroke":{"value":"black"},"strokeWidth":{"value":1.2},"opacity":{"value":1}}}}}}}}
  ],
  "resolve": {"axis": {"y": "independent"}}}
 ],
 "spacing": 146.5, "bounds": "flush",
 "resolve": {"scale": {"x":"independent","y":"independent","fill":"independent","shape":"independent"}, "axis": {"x":"independent","y":"independent"}, "legend": {"fill":"independent","shape":"independent"}}}
],
"config": {
 "view": {"stroke": null},
 "font": "Liberation Sans",
 "axis": {"labelFont": "Liberation Sans", "titleFont": "Liberation Sans", "labelColor": "#222222", "titleColor": "#1a1a1a", "grid": false, "domainColor": "#111111", "tickColor": "#111111", "domainWidth": 1.5, "tickWidth": 1.5},
 "legend": {"labelFont": "Liberation Sans", "labelFontSize": 20, "labelFontWeight": "bold", "labelColor": "#222222"},
 "text": {"font": "Liberation Sans"}
}
}
